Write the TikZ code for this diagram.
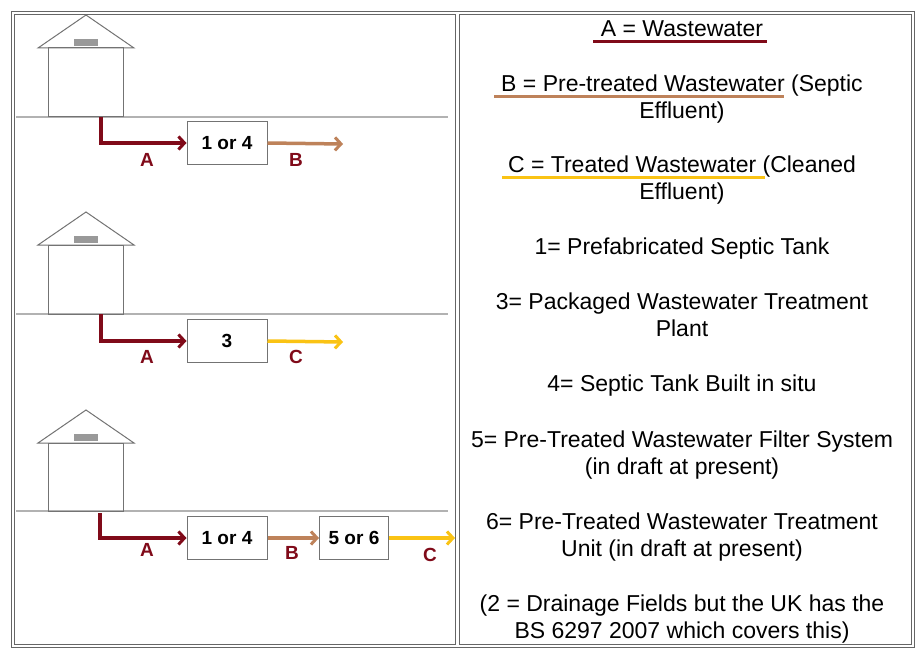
\documentclass[tikz,border=0pt]{standalone}
\usepackage{fontspec}
\setmainfont{Liberation Sans}
\usetikzlibrary{arrows.meta}
\definecolor{cA}{RGB}{128,10,25}
\definecolor{cB}{RGB}{190,130,90}
\definecolor{cC}{RGB}{250,195,20}
\begin{document}
\begin{tikzpicture}[x=1pt,y=-1pt,
  frame/.style={draw=gray!80!black,line width=0.8pt},
  house/.style={draw=gray!90!black,line width=1pt},
  ground/.style={draw=gray!60,line width=1.2pt},
  box/.style={draw=gray!90!black,line width=1pt,fill=white,minimum width=80pt,minimum height=43pt,inner sep=0pt,font=\fontsize{19}{19}\selectfont\bfseries},
  tip/.style={-{Straight Barb[length=6pt,width=13pt,line width=3pt]}},
  flowA/.style={draw=cA,line width=3.5pt,tip},
  flowB/.style={draw=cB,line width=3.5pt,tip},
  flowC/.style={draw=cC,line width=3.5pt,tip},
  lab/.style={font=\fontsize{19}{19}\selectfont\bfseries,text=cA},
  txt/.style={font=\fontsize{23}{27}\selectfont,align=center,anchor=north,inner sep=0pt}]
\useasboundingbox (0,0) rectangle (916,658);
\fill[white] (0,0) rectangle (916,658);
% frames
\draw[frame] (11,11) rectangle (914,647);
\draw[frame] (14,14) rectangle (455,644);
\draw[frame] (459,14) rectangle (911,644);
% panel houses
\foreach \r/\g in {15/117, 212/314, 410/511}{
  \draw[ground] (16,\g) -- (448,\g);
  \draw[house] (38,\r+33) -- (86,\r) -- (134,\r+33) -- cycle;
  \draw[house] (48,\r+33) rectangle (123,\g);
  \fill[gray!80] (74,\r+24) rectangle (98,\r+31);
}
% panel 1
\node[box] (b1) at (227,143) {1 or 4};
\coordinate (s1) at (101,117);
\coordinate (e1) at (343,144);
\draw[flowA] (s1) |- (b1.west);
\draw[flowB] (b1.east) -- (e1);
\node[lab] at (147,160) {A};
\node[lab] at (296,160) {B};
% panel 2
\node[box] (b2) at (227,341) {3};
\coordinate (s2) at (101,314);
\coordinate (e2) at (343,342);
\draw[flowA] (s2) |- (b2.west);
\draw[flowC] (b2.east) -- (e2);
\node[lab] at (147,357) {A};
\node[lab] at (296,357) {C};
% panel 3
\node[box] (b3) at (227,538) {1 or 4};
\node[box,minimum width=69pt] (b4) at (354,538) {5 or 6};
\coordinate (s3) at (100,513);
\coordinate (e3) at (455,538);
\draw[flowA] (s3) |- (b3.west);
\draw[flowB] (b3.east) -- (b4.west);
\draw[flowC] (b4.east) -- (e3);
\node[lab] at (147,550) {A};
\node[lab] at (292,553) {B};
\node[lab] at (430,555) {C};
% legend
\node[txt] (t1) at (682,20) {A = Wastewater};
\draw[cA,line width=3pt] (593,42) -- (767,42);
\node[txt] (t2) at (682,75) {B = Pre-treated Wastewater (Septic\\Effluent)};
\draw[cB,line width=3pt] (494,97) -- (784,97);
\node[txt] (t3) at (682,156) {C = Treated Wastewater (Cleaned\\Effluent)};
\draw[cC,line width=3pt] (502,178) -- (765,178);
\node[txt] (t4) at (682,238) {1= Prefabricated Septic Tank};
\node[txt] (t5) at (682,293) {3= Packaged Wastewater Treatment\\Plant};
\node[txt] (t6) at (682,375) {4= Septic Tank Built in situ};
\node[txt] (t7) at (682,431) {5= Pre-Treated Wastewater Filter System\\(in draft at present)};
\node[txt] (t8) at (682,513) {6= Pre-Treated Wastewater Treatment\\Unit (in draft at present)};
\node[txt] (t9) at (682,595) {(2 = Drainage Fields but the UK has the\\BS 6297 2007 which covers this)};
\end{tikzpicture}
\end{document}
